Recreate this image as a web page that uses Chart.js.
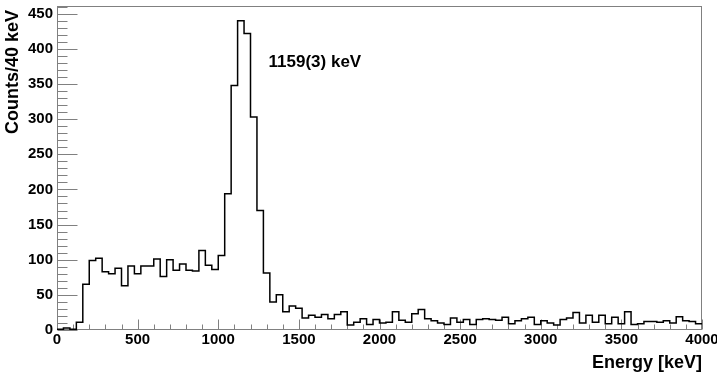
<!DOCTYPE html>
<html>
<head>
<meta charset="utf-8">
<script src="https://cdn.jsdelivr.net/npm/chart.js@4/dist/chart.umd.min.js"></script>
<style>
  html, body { margin: 0; padding: 0; background: #fff; }
  #wrap { width: 717px; height: 373px; }
</style>
</head>
<body>
<div id="wrap"><canvas id="myChart" width="717" height="373"></canvas></div>
<script>
// histogram, 100 bins of 40 keV from 0 to 4000 keV
const binWidth = 40;
const counts = [
    1, 3, 1, 11, 65, 99, 102, 83, 80, 88,
    63, 91, 80, 91, 91, 101, 76, 100, 85, 94,
    85, 84, 113, 92, 86, 106, 194, 348, 440, 422,
    303, 170, 81, 40, 50, 26, 34, 31, 17, 21,
    18, 22, 16, 22, 26, 7, 11, 16, 8, 15,
    10, 11, 26, 14, 11, 23, 29, 16, 13, 10,
    8, 17, 11, 15, 8, 15, 16, 15, 14, 18,
    9, 13, 16, 18, 8, 13, 10, 7, 15, 17,
    25, 10, 21, 11, 21, 9, 18, 9, 26, 8,
    9, 12, 12, 11, 13, 10, 19, 13, 12, 9
];
const xTicks = [0, 500, 1000, 1500, 2000, 2500, 3000, 3500, 4000];
const yTicks = [0, 50, 100, 150, 200, 250, 300, 350, 400, 450];
const peakLabel = '1159(3) keV';

// step points at the low edge of every bin, plus the closing edge
const points = counts.map((c, i) => ({x: i * binWidth, y: c}));
points.push({x: counts.length * binWidth, y: counts[counts.length - 1]});

const FONT = "'Liberation Sans', Arial, sans-serif";
const frameColor = '#808080';

// frame, ROOT-like inner tick marks, titles and peak label
const rootStyle = {
    id: 'rootStyle',
    beforeDatasetsDraw(chart) {
        const ctx = chart.ctx;
        const a = chart.chartArea;
        const xs = chart.scales.x, ys = chart.scales.y;
        const L = Math.round(a.left) + 0.5, R = Math.round(a.right) - 0.5;
        const T = Math.round(a.top) + 0.5, B = Math.round(a.bottom) - 0.5;
        ctx.save();
        ctx.strokeStyle = frameColor;
        ctx.lineWidth = 1;
        ctx.beginPath();
        // x ticks: major every 500, minor every 100
        for (let v = 0; v <= 4000; v += 100) {
            const px = Math.round(xs.getPixelForValue(v)) + 0.5;
            const len = v % 500 === 0 ? 10 : 5;
            ctx.moveTo(px, B);
            ctx.lineTo(px, B - len);
        }
        // y ticks: major every 50, minor every 10
        for (let v = 0; v <= 460; v += 10) {
            const py = Math.round(ys.getPixelForValue(v)) + 0.5;
            const len = v % 50 === 0 ? 20 : 10;
            ctx.moveTo(L, py);
            ctx.lineTo(L + len, py);
        }
        ctx.stroke();
        ctx.strokeRect(L, T, R - L, B - T);
        ctx.restore();
    },
    afterDraw(chart) {
        const ctx = chart.ctx;
        const a = chart.chartArea;
        const xs = chart.scales.x, ys = chart.scales.y;
        ctx.save();
        ctx.fillStyle = '#000';
        ctx.font = 'bold 18px ' + FONT;
        ctx.textBaseline = 'alphabetic';
        ctx.textAlign = 'right';
        ctx.fillText('Energy [keV]', a.right, 368);

        ctx.save();
        ctx.translate(18, 10);
        ctx.rotate(-Math.PI / 2);
        ctx.textAlign = 'right';
        ctx.fillText('Counts/40 keV', 0, 0);
        ctx.restore();

        ctx.font = 'bold 17px ' + FONT;
        ctx.textAlign = 'left';
        ctx.fillText(peakLabel, xs.getPixelForValue(1312), ys.getPixelForValue(374));
        ctx.restore();
    }
};

const data = {
    datasets: [{
        label: 'Counts',
        data: points,
        borderColor: '#000',
        borderWidth: 1.5,
        pointRadius: 0,
        stepped: 'before',
        fill: false,
        tension: 0,
    }]
};

const config = {
    type: 'line',
    data: data,
    options: {
        responsive: false,
        animation: false,
        layout: {padding: {left: 0, right: 15, top: 6, bottom: 0}},
        plugins: {legend: {display: false}, tooltip: {enabled: false}},
        scales: {
            x: {
                type: 'linear',
                min: 0,
                max: 4000,
                grid: {display: false, drawTicks: false},
                border: {display: false},
                afterBuildTicks: (s) => { s.ticks = xTicks.map(v => ({value: v})); },
                afterFit: (s) => { s.height = 43; s.paddingLeft = 0; s.paddingRight = 0; },
                ticks: {
                    autoSkip: false,
                    maxRotation: 0,
                    padding: 1,
                    color: '#000',
                    font: {family: FONT, size: 15, weight: 'bold'},
                    callback: (v) => String(v),
                },
            },
            y: {
                type: 'linear',
                min: 0,
                max: 461,
                grid: {display: false, drawTicks: false},
                border: {display: false},
                afterBuildTicks: (s) => { s.ticks = yTicks.map(v => ({value: v})); },
                afterFit: (s) => { s.width = 57; s.paddingTop = 0; s.paddingBottom = 0; },
                ticks: {
                    autoSkip: false,
                    padding: 4,
                    color: '#000',
                    font: {family: FONT, size: 15, weight: 'bold'},
                    callback: (v) => String(v),
                },
            },
        },
    },
    plugins: [rootStyle],
};

const myChart = new Chart(document.getElementById('myChart'), config);
</script>
</body>
</html>
